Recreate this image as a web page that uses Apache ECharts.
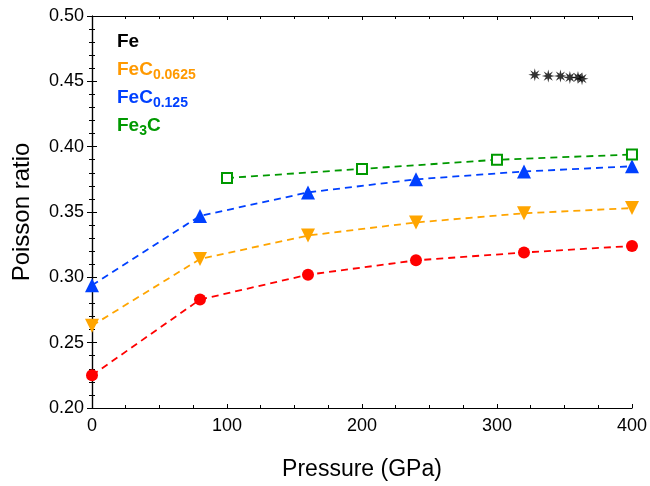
<!DOCTYPE html>
<html>
<head>
<meta charset="utf-8">
<script src="https://cdn.jsdelivr.net/npm/echarts@6/dist/echarts.min.js"></script>
<style>html,body{margin:0;padding:0;background:#fff;}#c{width:650px;height:486px;}</style>
</head>
<body>
<div id="c"></div>
<script>
// ---- data ----
var pressure = [0, 80, 160, 240, 320, 400];
var redVals = [0.225, 0.283, 0.302, 0.313, 0.319, 0.324];
var fec0625Vals = [0.263, 0.314, 0.332, 0.342, 0.349, 0.353];
var fec125Vals = [0.294, 0.347, 0.365, 0.375, 0.381, 0.385];
var fe3cPressure = [100, 200, 300, 400];
var fe3cVals = [0.376, 0.383, 0.390, 0.394];
var fePressure = [328, 338, 347, 354, 360, 363];
var feVals = [0.455, 0.454, 0.454, 0.453, 0.453, 0.452];
var xTicks = [0, 100, 200, 300, 400];
var yTicks = [0.20, 0.25, 0.30, 0.35, 0.40, 0.45, 0.50];

function pairs(xs, ys) { return xs.map(function (x, i) { return [x, ys[i]]; }); }

function starPath(n, ro, ri) {
  var p = [];
  for (var i = 0; i < 2 * n; i++) {
    var r = i % 2 === 0 ? ro : ri;
    var a = Math.PI * i / n - Math.PI / 2;
    p.push((i === 0 ? 'M' : 'L') + (50 + r * Math.cos(a)).toFixed(2) + ',' + (50 + r * Math.sin(a)).toFixed(2));
  }
  return 'path://' + p.join(' ') + ' Z';
}

var FONT = 'Liberation Sans, Arial, Helvetica, sans-serif';
var chart = echarts.init(document.getElementById('c'));

function lineSeries(name, data, color, symbol, size, hollow) {
  return {
    name: name, type: 'line', data: data, xAxisIndex: 0, yAxisIndex: 0,
    symbol: symbol, symbolSize: size, showAllSymbol: true,
    lineStyle: { color: color, width: 1.8, type: [7, 5] },
    itemStyle: hollow ? { color: '#fff', borderColor: color, borderWidth: 2 } : { color: color, borderWidth: 0 },
    z: 3, animation: false
  };
}

var axisLineStyle = { show: true, lineStyle: { color: '#000', width: 1.2 } };

function sub(color) {
  return {
    a: { fontSize: 19, fontWeight: 'bold', fontFamily: FONT, fill: color, color: color },
    b: { fontSize: 14, fontWeight: 'bold', fontFamily: FONT, fill: color, color: color, padding: [11, 0, 0, 0] }
  };
}

var option = {
  backgroundColor: '#fff',
  animation: false,
  grid: { left: 92, right: 14, top: 16, bottom: 70, containLabel: false },
  xAxis: [{
    type: 'value', min: 0, max: 400, interval: 100, position: 'bottom',
    axisLine: axisLineStyle,
    axisTick: { show: true, inside: true, length: 4, lineStyle: { color: '#000' } },
    minorTick: { show: true, splitNumber: 4, length: 3, lineStyle: { color: '#000' } },
    splitLine: { show: false },
    axisLabel: { color: '#000', fontSize: 18, fontFamily: FONT, margin: 9 },
    name: 'Pressure (GPa)', nameLocation: 'middle', nameGap: 50,
    nameTextStyle: { color: '#000', fontSize: 23, fontFamily: FONT }
  }, {
    type: 'value', min: 0, max: 400, interval: 100, position: 'top',
    axisLine: axisLineStyle,
    axisTick: { show: true, inside: true, length: 4, lineStyle: { color: '#000' } },
    minorTick: { show: true, splitNumber: 4, length: 3, lineStyle: { color: '#000' } },
    splitLine: { show: false }, axisLabel: { show: false }
  }],
  yAxis: [{
    type: 'value', min: 0.2, max: 0.5, interval: 0.05, position: 'left',
    axisLine: axisLineStyle,
    axisTick: { show: true, inside: true, length: 5, lineStyle: { color: '#000' } },
    minorTick: { show: true, splitNumber: 5, length: 3, lineStyle: { color: '#000' } },
    splitLine: { show: false },
    axisLabel: { color: '#000', fontSize: 18, fontFamily: FONT, margin: 8,
      formatter: function (v) { return v.toFixed(2); } },
    name: 'Poisson ratio', nameLocation: 'middle', nameGap: 58,
    nameTextStyle: { color: '#000', fontSize: 24, fontFamily: FONT }
  }, {
    type: 'value', min: 0.2, max: 0.5, interval: 0.05, position: 'right',
    axisLine: axisLineStyle,
    axisTick: { show: true, inside: true, length: 5, lineStyle: { color: '#000' } },
    minorTick: { show: true, splitNumber: 5, length: 3, lineStyle: { color: '#000' } },
    splitLine: { show: false }, axisLabel: { show: false }
  }],
  series: [
    lineSeries('Fe (red)', pairs(pressure, redVals), '#ff0000', 'circle', 12, false),
    lineSeries('FeC0.0625', pairs(pressure, fec0625Vals), '#ffa500', 'triangle', 14, false),
    lineSeries('FeC0.125', pairs(pressure, fec125Vals), '#0040ff', 'triangle', 14, false),
    lineSeries('Fe3C', pairs(fe3cPressure, fe3cVals), '#009900', 'rect', 10, true),
    {
      name: 'Fe', type: 'scatter', data: pairs(fePressure, feVals),
      symbol: starPath(8, 50, 20), symbolSize: 13,
      itemStyle: { color: '#000' }, z: 4
    }
  ],
  graphic: [
    { type: 'text', left: 117, top: 32, style: { text: 'Fe', fill: '#000', font: 'bold 19px ' + FONT } },
    { type: 'text', left: 117, top: 60, style: { rich: sub('#ff9900'), text: '{a|FeC}{b|0.0625}' } },
    { type: 'text', left: 117, top: 88, style: { rich: sub('#0040ff'), text: '{a|FeC}{b|0.125}' } },
    { type: 'text', left: 117, top: 116, style: { rich: sub('#009900'), text: '{a|Fe}{b|3}{a|C}' } }
  ]
};
option.series[1].symbolRotate = 180;
chart.setOption(option);
</script>
</body>
</html>
